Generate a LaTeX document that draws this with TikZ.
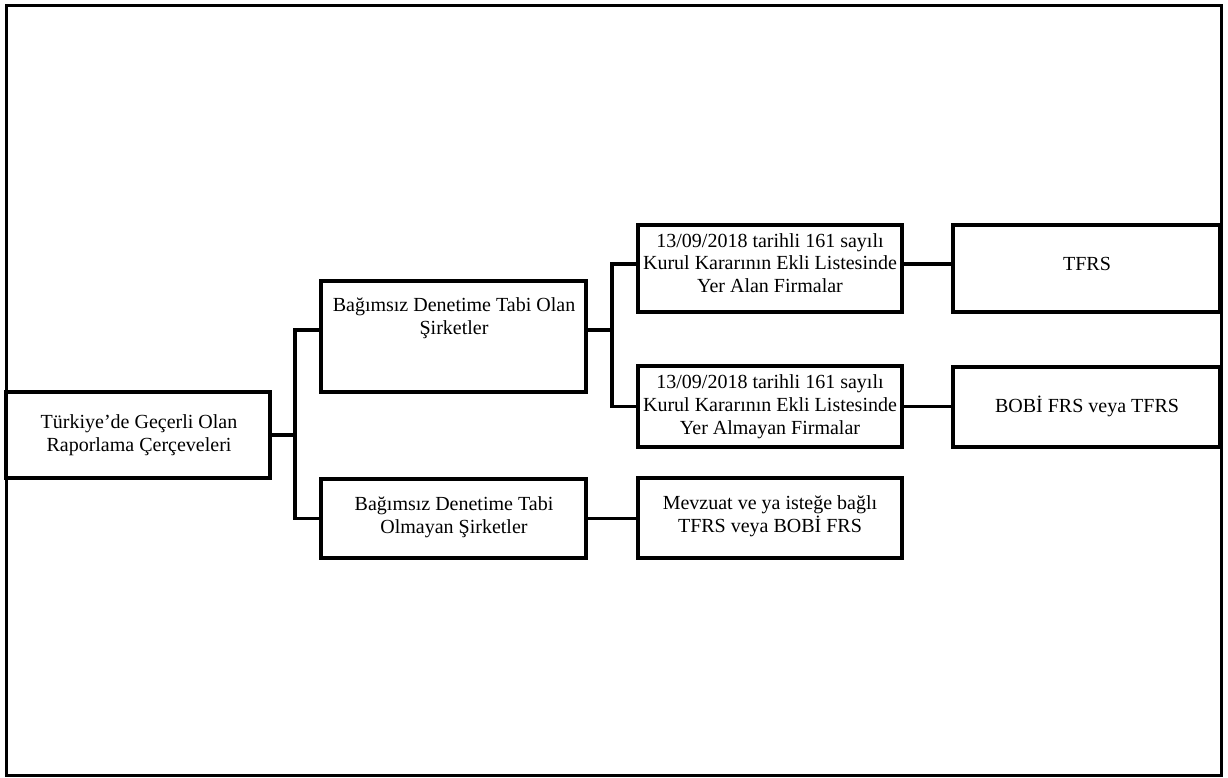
\documentclass[tikz,border=0pt]{standalone}
\usepackage{fontspec}
\setmainfont{Liberation Serif}
\begin{document}
\begin{tikzpicture}[x=1pt,y=-1pt,
  box/.style={draw=black,line width=3.4pt,inner sep=0pt,fill=white},
  txt/.style={align=center,inner sep=0pt,font=\fontsize{20}{22.8}\selectfont},
  conn/.style={draw=black,line width=3.2pt}]
\useasboundingbox (0,0) rectangle (1228,778);
\draw[line width=3pt] (6,6) rectangle (1221,775);
% boxes
\node[box,minimum width=264pt,minimum height=86pt] (root) at (138,435) {};
\node[box,minimum width=265pt,minimum height=111pt] (b1) at (453.5,336.5) {};
\node[box,minimum width=265pt,minimum height=79pt] (b2) at (453.5,518.5) {};
\node[box,minimum width=264pt,minimum height=87pt] (c1) at (770,268.5) {};
\node[box,minimum width=264pt,minimum height=81pt] (c2) at (770,406.5) {};
\node[box,minimum width=267pt,minimum height=87pt] (d1) at (1086.5,268.5) {};
\node[box,minimum width=267pt,minimum height=80pt] (d2) at (1086.5,407) {};
\node[box,minimum width=264pt,minimum height=80pt] (e) at (770,518) {};
% texts
\node[txt] (roott) at (139,435.5) {Türkiye’de Geçerli Olan\\Raporlama Çerçeveleri};
\node[txt] (b1t) at (454,318.5) {Bağımsız Denetime Tabi Olan\\Şirketler};
\node[txt] (b2t) at (454,517) {Bağımsız Denetime Tabi\\Olmayan Şirketler};
\node[txt] (c1t) at (770,263) {13/09/2018 tarihli 161 sayılı\\Kurul Kararının Ekli Listesinde\\Yer Alan Firmalar};
\node[txt] (c2t) at (770,407) {13/09/2018 tarihli 161 sayılı\\Kurul Kararının Ekli Listesinde\\Yer Almayan Firmalar};
\node[txt] (d1t) at (1087,264) {TFRS};
\node[txt] (d2t) at (1087,406) {BOBİ FRS veya TFRS};
\node[txt] (et) at (770,516.5) {Mevzuat ve ya isteğe bağlı\\TFRS veya BOBİ FRS};
% connectors
\coordinate (j1) at (295,435);
\coordinate (j2) at (612,330);
\draw[conn] (root.east) -- (j1);
\draw[conn] ([yshift=6.5pt]b1.west) -| (j1) |- (b2.west);
\draw[conn] ([yshift=6.5pt]b1.east) -- (j2);
\draw[conn] ([yshift=4.5pt]c1.west) -| (j2) |- (c2.west);
\draw[conn] ([yshift=4.5pt]c1.east) -- ([yshift=4.5pt]c1.east -| d1.west);
\draw[conn] (c2.east) -- (c2.east -| d2.west);
\draw[conn] (b2.east) -- (b2.east -| e.west);
\end{tikzpicture}
\end{document}
